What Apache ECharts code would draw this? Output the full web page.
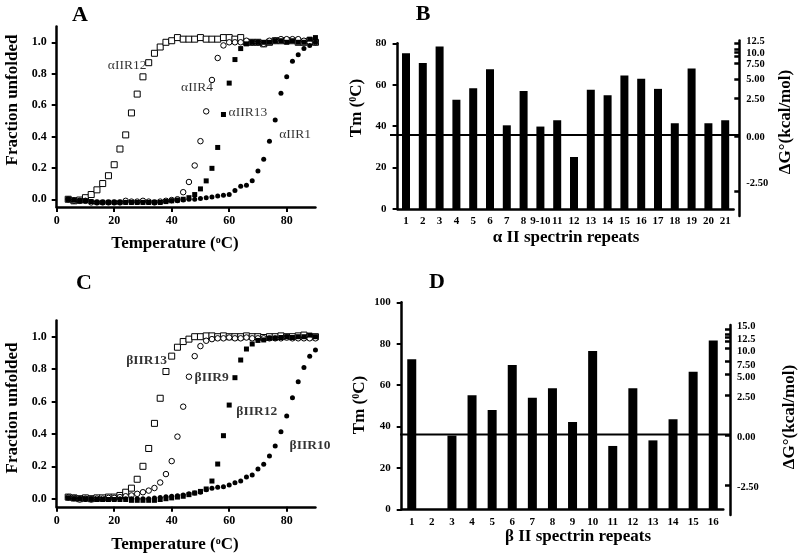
<!DOCTYPE html>
<html><head><meta charset="utf-8">
<script src="https://cdn.jsdelivr.net/npm/echarts@6/dist/echarts.min.js"></script>
<style>html,body{margin:0;padding:0;background:#fff}#c{width:800px;height:557px}</style>
</head><body><div id="c"></div>
<script>
// ---------- DATA ----------
const temps = [4,6,8,10,12,14,16,18,20,22,24,26,28,30,32,34,36,38,40,42,44,46,48,50,52,54,56,58,60,62,64,66,68,70,72,74,76,78,80,82,84,86,88,90];

// Panel A (alpha II repeats), fraction unfolded
const aIIR12 = [0.00,-0.01,-0.005,0.01,0.03,0.06,0.10,0.15,0.22,0.32, 0.41,0.55,0.67,0.78,0.87,0.93,0.97,1.00,1.01,1.03, 1.02,1.02,1.02,1.03,1.02,1.02,1.02,1.03,1.03,1.02, 1.03,1.00,1.00,1.00,0.99,1.00,1.01,1.01,1.01,1.01, 1.00,1.00,1.01,1.00];
const aIIR4  = [0.00,-0.01,-0.01,-0.01,-0.02,-0.02,-0.02,-0.02,-0.02,-0.02, -0.01,-0.015,-0.015,-0.01,-0.015,-0.02,-0.015,-0.01,-0.005,0.00, 0.045,0.11,0.215,0.37,0.56,0.76,0.90,0.98,1.00,1.00, 1.00,1.01,1.00,1.00,0.99,1.01,1.01,1.02,1.02,1.02, 1.02,1.01,1.00,1.00];
const aIIR13 = [0.00,-0.005,-0.01,-0.01,-0.015,-0.02,-0.02,-0.02,-0.02,-0.02, -0.02,-0.02,-0.02,-0.02,-0.02,-0.02,-0.02,-0.015,-0.01,-0.005, 0.00,0.01,0.03,0.066,0.117,0.197,0.33,0.54,0.74,0.89, 0.96,0.99,1.00,1.00,1.00,1.00,1.01,1.01,1.00,1.01, 1.00,1.00,1.02,1.03];
const aIIR1  = [0.00,-0.005,-0.01,-0.01,-0.015,-0.02,-0.02,-0.02,-0.02,-0.02, -0.02,-0.02,-0.02,-0.02,-0.02,-0.02,-0.02,-0.015,-0.01,-0.01, -0.005,0.00,0.00,0.005,0.01,0.015,0.02,0.025,0.03,0.055, 0.083,0.09,0.118,0.18,0.255,0.37,0.505,0.675,0.78,0.88, 0.92,0.96,0.98,1.00];

// Panel C (beta II repeats), fraction unfolded
const bIIR13 = [0.01,0.005,0.00,0.005,0.00,0.005,0.005,0.01,0.01,0.02, 0.04,0.065,0.12,0.20,0.31,0.465,0.62,0.785,0.88,0.935, 0.97,0.985,1.00,1.00,1.005,1.005,1.00,1.005,1.00,1.00, 1.00,1.005,1.00,1.00,0.995,1.00,1.00,1.005,1.00,1.00, 1.005,1.01,1.00,1.00];
const bIIR9  = [0.01,0.005,-0.005,0.00,-0.005,0.00,0.00,0.005,0.005,0.01, 0.015,0.02,0.03,0.04,0.05,0.066,0.10,0.152,0.232,0.383, 0.568,0.753,0.88,0.942,0.975,0.985,0.99,0.99,0.995,0.99, 0.99,0.995,0.99,0.99,0.99,0.99,0.99,0.99,0.995,0.99, 0.99,0.99,0.99,0.99];
const bIIR12 = [0.005,0.00,0.00,0.00,0.00,-0.005,-0.005,-0.005,-0.005,-0.005, -0.005,-0.01,-0.01,-0.01,-0.01,-0.01,-0.005,0.00,0.005,0.01, 0.015,0.025,0.035,0.045,0.06,0.109,0.214,0.389,0.578,0.747, 0.856,0.924,0.955,0.977,0.98,0.99,0.99,0.995,1.00,0.995, 1.00,1.00,1.01,1.00];
const bIIR10 = [0.005,0.00,0.00,-0.005,-0.005,-0.005,-0.005,-0.005,-0.005,0.00, 0.00,0.00,0.00,0.00,0.00,0.005,0.008,0.012,0.015,0.018, 0.023,0.03,0.035,0.04,0.055,0.064,0.07,0.074,0.084,0.099, 0.109,0.134,0.146,0.183,0.212,0.263,0.325,0.414,0.51,0.623, 0.722,0.81,0.88,0.918];

// Curve label anchors (data coordinates: temperature, fraction)
const curveLabelsA = [['αIIR12',24.5,0.85],['αIIR4',48.8,0.715],['αIIR13',66.5,0.55],['αIIR1',82.9,0.41]];
const curveLabelsC = [['βIIR13',31.3,0.856],['βIIR9',53.9,0.747],['βIIR12',69.6,0.537],['βIIR10',88.1,0.33]];

// Panel B: alpha II spectrin repeats, Tm
const repeatsA = ['1','2','3','4','5','6','7','8','9-10','11','12','13','14','15','16','17','18','19','20','21'];
const tmAlpha  = [75.2,70.5,78.4,52.8,58.3,67.5,40.4,57.0,39.8,42.8,25.1,57.6,54.9,64.4,62.9,58.0,41.4,67.8,41.4,42.8];
// Panel D: beta II spectrin repeats, Tm (repeat 2 has no bar)
const repeatsB = ['1','2','3','4','5','6','7','8','9','10','11','12','13','14','15','16'];
const tmBeta   = [72.5,null,35.6,55.1,48.0,69.7,53.9,58.5,42.2,76.5,30.6,58.5,33.3,43.5,66.5,81.6];

// Free energy axes: labels and the Tm they sit at (non-linear scale)
const dgLabelsB = ['-2.50','0.00','2.50','5.00','7.50','10.0','12.5'];
const dgAtTmB   = [12.2,34.4,53.2,62.4,70.1,75.3,81.0];
const dgTicksB  = [8.7,35.3,53.5,62.7,70.4,73.6,75.5,77.3,80.0];
const zeroDgTmB = 35.7;
const dgLabelsD = ['-2.50','0.00','2.50','5.00','7.50','10.0','12.5','15.0'];
const dgAtTmD   = [10.8,34.8,54.1,64.0,69.7,76.5,82.0,88.6];
const dgTicksD  = [11.4,35.9,55.2,65.2,71.3,77.8,81.0,82.9,84.7,87.1];
const zeroDgTmD = 36.2;

const tempTicks = [0,20,40,60,80];
const fracTicks = [0,0.2,0.4,0.6,0.8,1.0];

// ---------- CHART ----------
const FONT = '"Liberation Serif","Times New Roman",serif';
const black = '#000';
const chart = echarts.init(document.getElementById('c'), null, {renderer:'canvas'});

const pair = arr => temps.map((t,i)=>[t,arr[i]]);
const lineAx = {show:true, onZero:false, lineStyle:{color:black, width:2.5}};
const tickLbl = (size)=>({color:black, fontFamily:FONT, fontWeight:'bold', fontSize:size});

function tempXAxis(gi){
  return {gridIndex:gi, type:'value', min:0, max:90,
    axisLine:lineAx, splitLine:{show:false},
    axisTick:{show:true, length:5, lineStyle:{color:black,width:2}, customValues:tempTicks},
    axisLabel:Object.assign({customValues:tempTicks, margin:8}, tickLbl(12))};
}
function fracYAxis(gi){
  return {gridIndex:gi, type:'value', min:-0.05, max:1.1,
    axisLine:lineAx, splitLine:{show:false},
    axisTick:{show:true, length:5, lineStyle:{color:black,width:2}, customValues:fracTicks},
    axisLabel:Object.assign({customValues:fracTicks, margin:10, formatter:v=>v.toFixed(1)}, tickLbl(12))};
}
function catXAxis(gi, cats){
  return {gridIndex:gi, type:'category', data:cats, axisLine:lineAx,
    axisTick:{show:false}, axisLabel:Object.assign({margin:7, interval:0}, tickLbl(11))};
}
function tmYAxis(gi, max){
  return {gridIndex:gi, type:'value', min:0, max:max, interval:20,
    axisLine:lineAx, splitLine:{show:false},
    axisTick:{show:true, length:5, lineStyle:{color:black,width:2}},
    axisLabel:Object.assign({margin:11}, tickLbl(11))};
}
function dgYAxis(gi, min, max, labels, at, ticks){
  return {gridIndex:gi, type:'value', position:'right', min:min, max:max,
    axisLine:lineAx, splitLine:{show:false},
    axisTick:{show:true, inside:true, length:5, lineStyle:{color:black,width:2.5}, customValues:ticks},
    axisLabel:Object.assign({customValues:at, margin:7,
      formatter:v=>{const i=at.findIndex(p=>Math.abs(p-v)<1e-6); return i>=0?labels[i]:'';}}, tickLbl(10.5))};
}
const hiddenX = gi => ({gridIndex:gi, type:'value', min:0, max:1, show:false});

function scat(name, arr, xi, symbol, filled){
  return {name, type:'scatter', xAxisIndex:xi, yAxisIndex:xi, data:pair(arr),
    symbol, symbolSize: filled ? 5 : (symbol==='rect' ? 6 : 5.5), silent:true,
    itemStyle: filled ? {color:black, borderWidth:0, opacity:1} : {color:'#fff', borderColor:black, borderWidth:1, opacity:1}};
}
function curveLabels(list, xi, bold){
  return {type:'scatter', xAxisIndex:xi, yAxisIndex:xi, symbolSize:0, silent:true, z:5,
    data:list.map(d=>({name:d[0], value:[d[1],d[2]]})),
    label:{show:true, position:'inside', formatter:p=>p.name, color:black,
      fontFamily:FONT, fontSize:13.5, fontWeight: bold?'bold':'normal'}};
}

const tStyle = (size)=>({fontFamily:FONT, fontWeight:'bold', fontSize:size, fill:black, align:'center', verticalAlign:'middle'});
function txt(text, x, y, size, rot, rich){
  const st = tStyle(size); st.text = text;
  if (rich) st.rich = rich;
  return {type:'text', x, y, rotation: rot?Math.PI/2:0, style:st, silent:true};
}
const supRich = {s:{fontFamily:FONT, fontWeight:'bold', fontSize:10, verticalAlign:'top', fill:black, padding:[0,0,6,0]}};

chart.setOption({
  animation:false,
  backgroundColor:'#fff',
  grid:[
    {left:56.7, top:26.6, width:258.75, height:180.5},   // A
    {left:397.6, top:43.3, width:336, height:165.7},     // B bars
    {left:390, top:40.6, width:349.3, height:175.4},     // B free-energy axis
    {left:56.7, top:320.5, width:258.75, height:186.3},  // C
    {left:401.7, top:302.3, width:321.6, height:207},    // D bars
    {left:400, top:325.1, width:330, height:190}         // D free-energy axis
  ],
  xAxis:[ tempXAxis(0), catXAxis(1, repeatsA), hiddenX(2), tempXAxis(3), catXAxis(4, repeatsB), hiddenX(5) ],
  yAxis:[ fracYAxis(0), tmYAxis(1,80), dgYAxis(2,-3.38,81.3,dgLabelsB,dgAtTmB,dgTicksB),
          fracYAxis(3), tmYAxis(4,100), dgYAxis(5,-2.8,89,dgLabelsD,dgAtTmD,dgTicksD) ],
  series:[
    scat('αIIR12', aIIR12, 0, 'rect', false),
    scat('αIIR4', aIIR4, 0, 'circle', false),
    scat('αIIR13', aIIR13, 0, 'rect', true),
    scat('αIIR1', aIIR1, 0, 'circle', true),
    curveLabels(curveLabelsA, 0, false),
    {type:'bar', xAxisIndex:1, yAxisIndex:1, data:tmAlpha, barWidth:8, itemStyle:{color:black}, silent:true},
    {type:'line', xAxisIndex:2, yAxisIndex:2, data:[[0,zeroDgTmB],[1,zeroDgTmB]], symbol:'none', lineStyle:{color:black,width:2}, silent:true},
    scat('βIIR13', bIIR13, 3, 'rect', false),
    scat('βIIR9', bIIR9, 3, 'circle', false),
    scat('βIIR12', bIIR12, 3, 'rect', true),
    scat('βIIR10', bIIR10, 3, 'circle', true),
    curveLabels(curveLabelsC, 3, true),
    {type:'bar', xAxisIndex:4, yAxisIndex:4, data:tmBeta, barWidth:9, itemStyle:{color:black}, silent:true},
    {type:'line', xAxisIndex:5, yAxisIndex:5, data:[[0,zeroDgTmD],[1,zeroDgTmD]], symbol:'none', lineStyle:{color:black,width:2}, silent:true}
  ],
  graphic:[
    txt('A', 80, 15, 22),
    txt('B', 423, 14, 22),
    txt('C', 84, 283, 22),
    txt('D', 437, 282, 22),
    txt('Temperature ({s|o}C)', 175, 244, 17, false, supRich),
    txt('Temperature ({s|o}C)', 175, 545, 17, false, supRich),
    txt('Fraction unfolded', 13, 100, 17, true),
    txt('Fraction unfolded', 13, 408, 17, true),
    txt('α II spectrin repeats', 566, 238, 17),
    txt('β II spectrin repeats', 578, 537, 17),
    txt('Tm ({s|0}C)', 357, 108, 17, true, supRich),
    txt('Tm ({s|0}C)', 360, 405, 17, true, supRich),
    txt('ΔG°(kcal/mol)', 786, 122, 17, true),
    txt('ΔG°(kcal/mol)', 790, 417, 17, true)
  ]
});
</script>
</body></html>
